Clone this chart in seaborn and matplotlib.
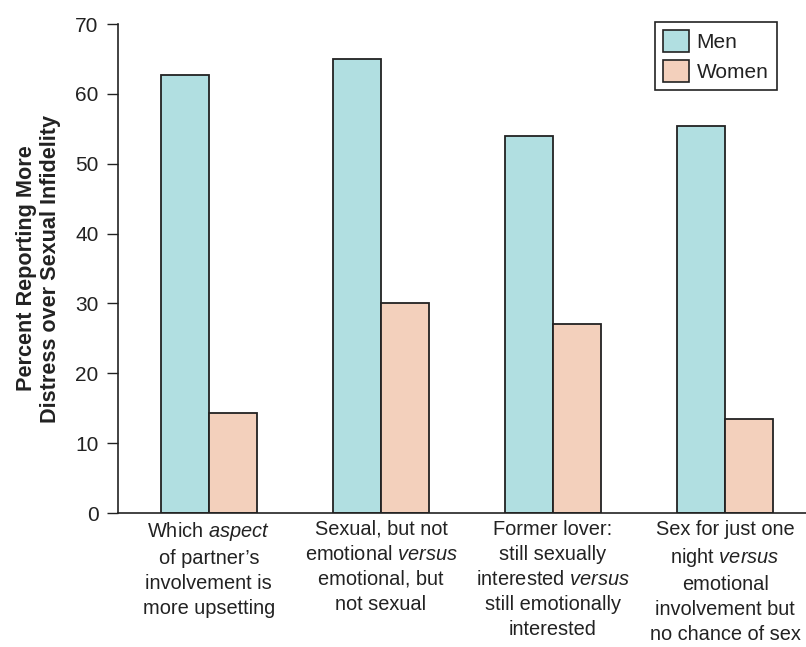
import matplotlib
matplotlib.use("Agg")
import matplotlib.pyplot as plt
from matplotlib.patches import Patch
import seaborn as sns
import pandas as pd

categories = [
    "Which $\\mathit{aspect}$\nof partner\u2019s\ninvolvement is\nmore upsetting",
    "Sexual, but not\nemotional $\\mathit{versus}$\nemotional, but\nnot sexual",
    "Former lover:\nstill sexually\ninterested $\\mathit{versus}$\nstill emotionally\ninterested",
    "Sex for just one\nnight $\\mathit{versus}$\nemotional\ninvolvement but\nno chance of sex",
]
men = [62.7, 65.0, 54.0, 55.4]
women = [14.3, 30.1, 27.0, 13.5]
groups = ["Men", "Women"]
colors = {"Men": "#B1DFE1", "Women": "#F3D0BC"}
y_ticks = [0, 10, 20, 30, 40, 50, 60, 70]
y_label = "Percent Reporting More\nDistress over Sexual Infidelity"

df = pd.DataFrame({
    "category": categories * 2,
    "percent": men + women,
    "sex": ["Men"] * len(categories) + ["Women"] * len(categories),
})

sns.set_theme(style="ticks")
plt.rcParams["font.family"] = ["Liberation Sans", "DejaVu Sans"]
plt.rcParams["mathtext.fontset"] = "custom"
plt.rcParams["mathtext.rm"] = "Liberation Sans"
plt.rcParams["mathtext.it"] = "Liberation Sans:italic"

fig = plt.figure(figsize=(8.06, 6.47), dpi=100)
ax = fig.add_axes([0.1464, 0.2071, 0.8536, 0.7558])

sns.barplot(data=df, x="category", y="percent", hue="sex", order=categories,
            hue_order=groups, palette=colors, width=0.56, saturation=1,
            edgecolor="#222222", linewidth=1.3, legend=False, ax=ax)

ax.set_xlim(-0.528, 3.47)
ax.set_ylim(0, 70)
ax.set_yticks(y_ticks)
ax.set_xlabel("")
ax.set_ylabel(y_label, fontsize=15.6, fontweight="bold", labelpad=10,
              linespacing=1.2, color="#222222")
ax.tick_params(axis="y", length=8, width=1.0, color="#222222", labelsize=15,
               pad=6, labelcolor="#222222")
ax.tick_params(axis="x", length=0, labelsize=14.4, pad=5, labelcolor="#222222")
for lab in ax.get_xticklabels():
    lab.set_linespacing(1.4)
sns.despine(ax=ax)
for side in ("left", "bottom"):
    ax.spines[side].set_color("#222222")
    ax.spines[side].set_linewidth(1.2)

handles = [Patch(facecolor=colors[g], edgecolor="#222222", linewidth=1.2, label=g)
           for g in groups]
leg = ax.legend(handles=handles, loc="upper left",
                bbox_to_anchor=(0.8127, 0.966), bbox_transform=fig.transFigure,
                borderaxespad=0, fancybox=False, framealpha=1, fontsize=15,
                handlelength=1.25, handleheight=1.25, handletextpad=0.35,
                borderpad=0.4, labelspacing=0.35, labelcolor="#222222")
leg.get_frame().set_edgecolor("#222222")
leg.get_frame().set_linewidth(1.2)

fig.savefig("out.png", dpi=100)
